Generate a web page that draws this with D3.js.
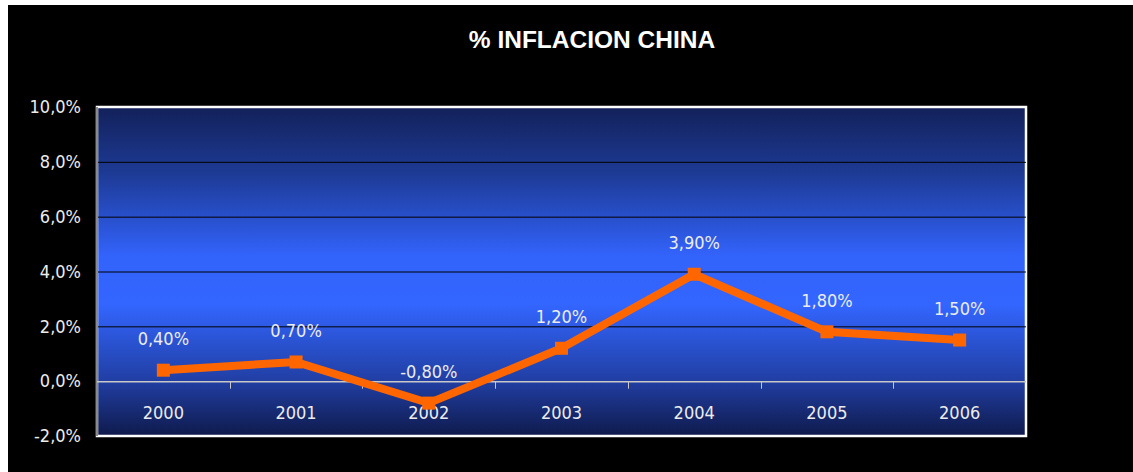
<!DOCTYPE html>
<html lang="es">
<head>
  <meta charset="UTF-8">
  <title>% INFLACION CHINA</title>
  <style>
    html, body { margin: 0; padding: 0; background: #fff; }
    svg { display: block; }
  </style>
</head>
<body>
  <div id="chart"></div>

  <script src="https://d3js.org/d3.v7.min.js"></script>
  <script>
    const years = ['2000', '2001', '2002', '2003', '2004', '2005', '2006'];
    const inflation = [0.4, 0.7, -0.8, 1.2, 3.9, 1.8, 1.5];
    const pointLabels = ['0,40%', '0,70%', '-0,80%', '1,20%', '3,90%', '1,80%', '1,50%'];
    const yTicks = [-2, 0, 2, 4, 6, 8, 10];

    const WIDTH = 1133;
    const HEIGHT = 472;
    const plot = {left: 97, top: 107, right: 1026, bottom: 436};
    const LABEL_FONT = '"Liberation Sans Narrow", "Arial Narrow", "DejaVu Sans Condensed", sans-serif';

    const svg = d3.select('#chart')
      .append('svg')
      .attr('width', WIDTH)
      .attr('height', HEIGHT);

    // black frame, white strip left and top like the original
    svg.append('rect')
      .attr('x', 8).attr('y', 5)
      .attr('width', WIDTH - 8).attr('height', HEIGHT - 5)
      .attr('fill', '#000');

    const defs = svg.append('defs');
    const grad = defs.append('linearGradient')
      .attr('id', 'bg')
      .attr('x1', 0).attr('y1', 0).attr('x2', 0).attr('y2', 1);
    [[0, '#13215a'], [0.2, '#1d3a94'], [0.45, '#3263fa'], [0.6, '#3366ff'], [0.83, '#213fa4'], [1, '#0f1a4c']]
      .forEach(([o, c]) => grad.append('stop').attr('offset', o).attr('stop-color', c));

    const xScale = d3.scaleBand()
      .domain(years)
      .range([plot.left, plot.right]);

    const yScale = d3.scaleLinear()
      .domain([-2, 10])
      .range([plot.bottom, plot.top]);

    // title
    svg.append('text')
      .attr('x', 592)
      .attr('y', 48)
      .attr('text-anchor', 'middle')
      .attr('font-family', '"Liberation Sans", Arial, sans-serif')
      .attr('font-weight', 'bold')
      .attr('font-size', '24.5px')
      .attr('fill', '#fff')
      .text('% INFLACION CHINA');

    // plot background + white border
    svg.append('rect')
      .attr('x', plot.left).attr('y', plot.top)
      .attr('width', plot.right - plot.left).attr('height', plot.bottom - plot.top)
      .attr('fill', 'url(#bg)')
      .attr('stroke', '#fff')
      .attr('stroke-width', 2.5);

    // horizontal gridlines
    svg.append('g')
      .selectAll('line')
      .data(yTicks.filter(d => d > 0 && d < 10))
      .join('line')
      .attr('x1', plot.left).attr('x2', plot.right)
      .attr('y1', d => yScale(d) + 0.5).attr('y2', d => yScale(d) + 0.5)
      .attr('stroke', '#000')
      .attr('stroke-width', 1);

    // left axis line
    svg.append('line')
      .attr('x1', plot.left).attr('x2', plot.left)
      .attr('y1', plot.top).attr('y2', plot.bottom)
      .attr('stroke', '#8a8a8a')
      .attr('stroke-width', 2);

    // y tick labels
    const yAxis = d3.axisLeft(yScale)
      .tickValues(yTicks)
      .tickSize(0)
      .tickPadding(16)
      .tickFormat(d => d3.format('.1f')(d).replace('.', ',').replace('\u2212', '-') + '%');
    const yAxisG = svg.append('g')
      .attr('transform', `translate(${plot.left},0)`)
      .call(yAxis);
    yAxisG.select('.domain').remove();
    yAxisG.selectAll('text')
      .attr('font-family', LABEL_FONT)
      .attr('font-size', '18px')
      .attr('fill', '#ececec');

    // zero axis with category boundary ticks
    const y0 = yScale(0) + 0.5;
    svg.append('line')
      .attr('x1', plot.left).attr('x2', plot.right)
      .attr('y1', y0).attr('y2', y0)
      .attr('stroke', '#c8c8c8')
      .attr('stroke-width', 1.5);
    svg.append('g')
      .selectAll('line')
      .data(years.slice(1))
      .join('line')
      .attr('x1', d => Math.round(xScale(d)) + 0.5)
      .attr('x2', d => Math.round(xScale(d)) + 0.5)
      .attr('y1', y0).attr('y2', y0 + 7)
      .attr('stroke', '#c8c8c8')
      .attr('stroke-width', 1);

    // x labels
    svg.append('g')
      .selectAll('text')
      .data(years)
      .join('text')
      .attr('x', d => xScale(d) + xScale.bandwidth() / 2)
      .attr('y', yScale(0) + 38)
      .attr('text-anchor', 'middle')
      .attr('font-family', LABEL_FONT)
      .attr('font-size', '18px')
      .attr('fill', '#ececec')
      .text(d => d);

    const series = years.map((y, i) => ({year: y, value: inflation[i], label: pointLabels[i]}));
    const cx = d => xScale(d.year) + xScale.bandwidth() / 2;

    // line
    const line = d3.line()
      .x(cx)
      .y(d => yScale(d.value));
    svg.append('path')
      .datum(series)
      .attr('d', line)
      .attr('fill', 'none')
      .attr('stroke', '#ff6600')
      .attr('stroke-width', 8)
      .attr('stroke-linejoin', 'miter');

    // square markers
    svg.append('g')
      .selectAll('rect')
      .data(series)
      .join('rect')
      .attr('x', d => cx(d) - 6.5)
      .attr('y', d => yScale(d.value) - 6.5)
      .attr('width', 13).attr('height', 13)
      .attr('fill', '#ff6600');

    // data labels
    svg.append('g')
      .selectAll('text')
      .data(series)
      .join('text')
      .attr('x', cx)
      .attr('y', d => yScale(d.value) - 25)
      .attr('text-anchor', 'middle')
      .attr('font-family', LABEL_FONT)
      .attr('font-size', '18px')
      .attr('fill', '#ececec')
      .text(d => d.label);
  </script>
</body>
</html>
